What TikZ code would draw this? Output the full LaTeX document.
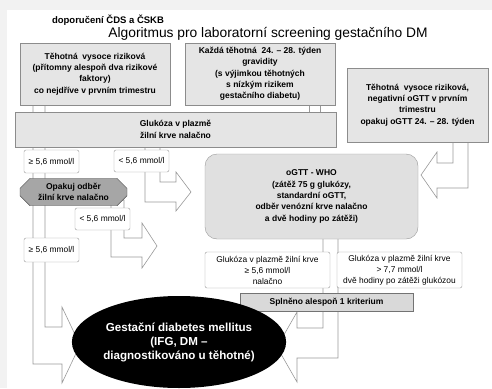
\documentclass[tikz,border=0pt]{standalone}
\usepackage{fontspec}
\setmainfont{Liberation Sans}
\usetikzlibrary{shapes.geometric,shapes.misc,positioning}
\tikzset
{
	infobox/.style = {rectangle, draw=black!45, fill=black!10, align=center, inner sep=0pt, font=\fontsize{8.5}{11.3}\selectfont\bfseries},
	valuebox/.style = {rectangle, rounded corners=2pt, draw=black!40, fill=white, align=center, inner sep=0pt, font=\fontsize{8.4}{11}\selectfont},
	repeatbox/.style = {chamfered rectangle, chamfered rectangle xsep=5pt, chamfered rectangle ysep=5pt, draw=black!70, fill=black!35, align=center, inner sep=0pt, font=\fontsize{8.5}{11}\selectfont\bfseries},
	testbox/.style = {rectangle, rounded corners=12pt, draw=black!40, fill=black!12, align=center, inner sep=0pt, font=\fontsize{8.5}{11.3}\selectfont\bfseries},
	metbox/.style = {rectangle, draw=black!55, fill=black!15, align=center, inner sep=0pt, font=\fontsize{8.5}{10}\selectfont\bfseries},
	resultnode/.style = {ellipse, fill=black, text=white, align=center, inner sep=0pt, font=\fontsize{11.6}{14}\selectfont\bfseries},
	hollow/.style = {draw=black!40, fill=white, line width=0.6pt, line join=miter}
}

\begin{document}
\begin{tikzpicture}[x=1pt, y=-1pt]
\useasboundingbox (0,0) rectangle (492,388);
\fill[black!5] (0,0) rectangle (492,388);
\fill[white] (7,10) rectangle (492,388);

% heading
\node[font=\fontsize{9.5}{10}\selectfont\bfseries] (source) at (108,20) {doporučení ČDS a ČSKB};
\node[font=\fontsize{13.8}{14}\selectfont] (title) at (268,34) {Algoritmus pro laboratorní screening gestačního DM};

% hollow arrows (behind the boxes)
\draw[hollow] (33,105) -- (45,105) -- (45,327) -- (62,327) -- (62,307) -- (80,345) -- (62,383) -- (62,364) -- (33,364) -- cycle;
\draw[hollow] (309,100) rectangle (320,115);
\draw[hollow] (145,145) -- (160,145) -- (160,182) -- (176,182) -- (176,172) -- (191,192) -- (176,211) -- (176,202) -- (145,202) -- cycle;
\draw[hollow] (111,200) -- (124,200) -- (124,238) -- (142,238) -- (142,223) -- (157,246) -- (142,268) -- (142,257) -- (111,257) -- cycle;
\draw[hollow] (453,140) -- (468,140) -- (468,188) -- (437,188) -- (437,198) -- (421,175) -- (437,152) -- (437,163) -- (453,163) -- cycle;
\draw[hollow] (323,235) -- (338,235) -- (338,358) -- (297,358) -- (297,382) -- (277,347) -- (297,312) -- (297,328) -- (323,328) -- cycle;

% top row
\node[infobox, minimum width=150pt, minimum height=62pt] (high) at (95,74)
	{Těhotná\ \ vysoce riziková\\(přítomny alespoň dva rizikové\\faktory)\\co nejdříve v prvním trimestru};
\node[infobox, minimum width=150pt, minimum height=62pt] (every) at (260,74)
	{Každá těhotná\ \ 24. – 28. týden\\gravidity\\(s výjimkou těhotných\\s nízkým rizikem\\gestačního diabetu)};
\node[infobox, minimum width=141pt, minimum height=74pt] (negative) at (417.5,105)
	{Těhotná\ \ vysoce riziková,\\negativní oGTT v prvním\\trimestru\\opakuj oGTT 24. – 28. týden};
\node[infobox, minimum width=321pt, minimum height=35pt, font=\fontsize{8.5}{12}\selectfont\bfseries] (glucose) at (175.5,129.5)
	{Glukóza v plazmě\\žilní krve nalačno};

% fasting values
\node[valuebox, minimum width=55pt, minimum height=23pt] (high1) at (51.5,161.5) {≥ 5,6 mmol/l};
\node[valuebox, minimum width=55pt, minimum height=22pt] (low1) at (141.5,161) {< 5,6 mmol/l};
\node[repeatbox, minimum width=107pt, minimum height=24pt] (repeat) at (73.5,192) {Opakuj odběr\\žilní krve nalačno};
\node[valuebox, minimum width=55pt, minimum height=22pt] (low2) at (102.5,219) {< 5,6 mmol/l};
\node[valuebox, minimum width=55pt, minimum height=24pt] (high2) at (51.5,250) {≥ 5,6 mmol/l};

% oGTT
\node[testbox, minimum width=213pt, minimum height=85pt] (ogtt) at (311.5,196.5)
	{oGTT - WHO\\(zátěž 75 g glukózy,\\standardní oGTT,\\odběr venózní krve nalačno\\a dvě hodiny po zátěži)};
\node[valuebox, minimum width=125pt, minimum height=36pt] (fasting) at (267.5,270)
	{Glukóza v plazmě žilní krve\\≥ 5,6 mmol/l\\nalačno};
\node[valuebox, minimum width=125pt, minimum height=36pt] (twohour) at (399.5,270)
	{Glukóza v plazmě žilní krve\\> 7,7 mmol/l\\dvě hodiny po zátěži glukózou};
\node[metbox, minimum width=173pt, minimum height=18pt] (criterion) at (326.5,302) {Splněno alespoň 1 kriterium};

% result
\node[resultnode, minimum width=188pt, minimum height=92pt] (gdm) at (179,342)
	{Gestační diabetes mellitus\\(IFG, DM –\\diagnostikováno u těhotné)};
\end{tikzpicture}
\end{document}
